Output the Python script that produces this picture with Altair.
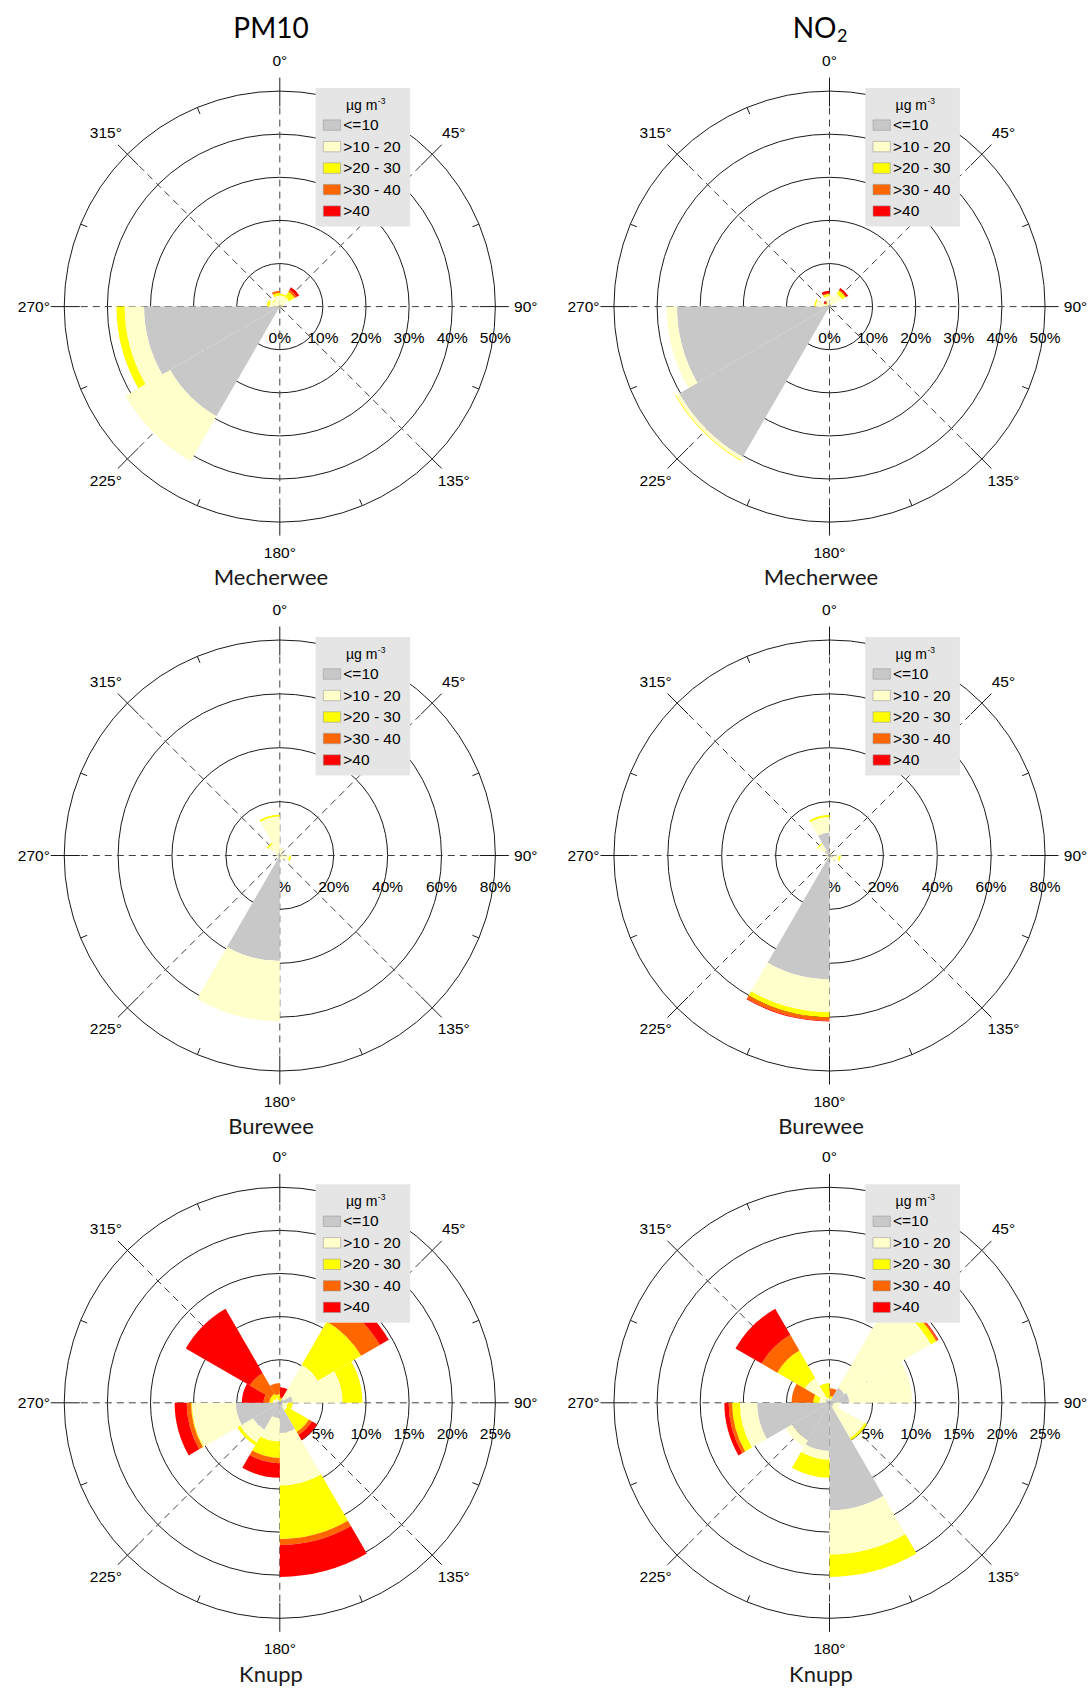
import math
import altair as alt
import pandas as pd

# ---------------------------------------------------------------------------
# Concentration classes and wind sectors
# ---------------------------------------------------------------------------
CLASSES = ["<=10", ">10 - 20", ">20 - 30", ">30 - 40", ">40"]
COLORS = ["#c8c8c8", "#ffffcc", "#ffff00", "#ff6600", "#ff0000"]
SECTOR_START = [0, 30, 60, 90, 120, 150, 180, 210, 240, 270, 300, 330]
SECTOR_WIDTH = 30
DEGREE_TICKS = [0, 45, 90, 135, 180, 225, 270, 315]

# Frequency (% of hours) per concentration class (rows) and wind sector (columns)
PM10_MECHERWEE = [
    [0.3, 0.5, 0.1, 0.1, 0.1, 0.1, 0.2, 29.4, 31.5, 0.3, 0.3, 0.3],
    [2.3, 2.0, 0.5, 0.3, 0.2, 0.2, 0.3, 12.0, 4.5, 2.1, 1.5, 2.2],
    [0.4, 1.5, 0.2, 0.0, 0.0, 0.0, 0.0, 0.0, 1.9, 0.6, 0.2, 0.7],
    [0.0, 0.5, 0.0, 0.0, 0.0, 0.0, 0.0, 0.0, 0.0, 0.0, 0.0, 0.5],
    [0.0, 0.7, 0.0, 0.0, 0.0, 0.0, 0.0, 0.0, 0.0, 0.0, 0.0, 0.0],
]
NO2_MECHERWEE = [
    [0.3, 0.5, 0.1, 0.1, 0.1, 0.1, 0.2, 40.3, 35.4, 0.3, 0.3, 0.5],
    [2.3, 2.9, 0.5, 0.2, 0.2, 0.1, 0.2, 0.8, 2.4, 2.9, 0.5, 1.9],
    [0.0, 0.9, 0.0, 0.0, 0.0, 0.0, 0.0, 0.2, 0.0, 0.3, 0.2, 0.5],
    [0.0, 0.2, 0.0, 0.0, 0.0, 0.0, 0.0, 0.0, 0.0, 0.0, 0.2, 0.2],
    [0.0, 0.5, 0.0, 0.0, 0.0, 0.0, 0.0, 0.0, 0.0, 0.0, 0.4, 0.6],
]
PM10_BUREWEE = [
    [0.3, 0.2, 0.2, 0.5, 0.3, 0.3, 39.2, 0.3, 0.2, 0.3, 0.5, 1.0],
    [2.7, 0.8, 1.0, 3.1, 1.7, 1.2, 22.3, 1.2, 0.8, 1.2, 4.5, 13.5],
    [0.0, 0.0, 0.0, 0.6, 0.0, 0.0, 0.0, 0.0, 0.0, 0.0, 0.6, 0.6],
    [0.0, 0.0, 0.0, 0.0, 0.0, 0.0, 0.0, 0.0, 0.0, 0.0, 0.0, 0.0],
    [0.0, 0.0, 0.0, 0.0, 0.0, 0.0, 0.0, 0.0, 0.0, 0.0, 0.0, 0.0],
]
NO2_BUREWEE = [
    [0.5, 0.5, 0.5, 1.5, 1.0, 0.5, 46.0, 0.5, 0.5, 0.8, 2.0, 8.5],
    [1.0, 0.5, 0.5, 2.1, 1.5, 1.0, 12.2, 1.0, 0.5, 0.7, 3.0, 5.8],
    [0.0, 0.0, 0.0, 0.6, 0.0, 0.0, 1.8, 0.0, 0.0, 0.0, 0.4, 0.7],
    [0.0, 0.0, 0.0, 0.0, 0.0, 0.0, 1.3, 0.0, 0.0, 0.0, 0.0, 0.0],
    [0.0, 0.0, 0.0, 0.0, 0.0, 0.0, 0.3, 0.0, 0.0, 0.0, 0.0, 0.0],
]
PM10_KNUPP = [
    [0.0, 0.5, 1.5, 0.3, 0.5, 3.5, 1.8, 3.6, 5.1, 0.3, 0.3, 0.0],
    [0.2, 4.6, 5.8, 0.6, 0.5, 6.1, 2.7, 1.7, 5.1, 0.5, 0.3, 0.3],
    [0.3, 5.8, 2.3, 0.6, 2.9, 6.2, 1.9, 0.4, 0.1, 0.4, 0.6, 0.7],
    [0.2, 2.5, 0.0, 0.0, 0.4, 0.7, 0.6, 0.0, 0.5, 0.7, 2.8, 1.3],
    [1.1, 1.2, 0.0, 0.0, 0.7, 3.7, 1.7, 0.0, 1.4, 2.5, 8.6, 0.0],
]
NO2_KNUPP = [
    [0.3, 2.0, 2.3, 0.5, 0.5, 12.5, 5.6, 5.0, 8.4, 0.4, 0.5, 0.2],
    [0.2, 11.6, 7.3, 0.7, 4.2, 5.1, 1.0, 0.9, 2.0, 0.8, 2.8, 0.4],
    [0.3, 0.7, 0.0, 0.0, 0.3, 2.6, 2.1, 0.0, 0.9, 0.7, 3.7, 1.7],
    [0.9, 0.2, 0.0, 0.0, 0.0, 0.0, 0.0, 0.0, 0.4, 2.5, 2.1, 0.0],
    [0.0, 0.1, 0.0, 0.0, 0.0, 0.0, 0.0, 0.0, 0.5, 0.0, 3.5, 0.0],
]

# Radial grid per station: ring step and outer ring (in %)
RINGS = {
    "Mecherwee": (10, 50),
    "Burewee": (20, 80),
    "Knupp": (5, 25),
}
POLLUTANTS = ["PM10", "NO2"]
STATIONS = ["Mecherwee", "Burewee", "Knupp"]
DATA = {
    ("PM10", "Mecherwee"): PM10_MECHERWEE,
    ("NO2", "Mecherwee"): NO2_MECHERWEE,
    ("PM10", "Burewee"): PM10_BUREWEE,
    ("NO2", "Burewee"): NO2_BUREWEE,
    ("PM10", "Knupp"): PM10_KNUPP,
    ("NO2", "Knupp"): NO2_KNUPP,
}

# ---------------------------------------------------------------------------
# Layout (pixels)
# ---------------------------------------------------------------------------
W, H = 1089, 1688
R = 215.5                       # outer ring radius
COL_CX = [279.8, 829.5]
ROW_CY = [306.6, 855.5, 1402.8]
TITLE_X = [271.0, 821.0]
STATION_BASE = [585.0, 1134.0, 1682.0]

AXIS_FONT = "Liberation Sans"
TITLE_FONT = "Lato"

color_scale = alt.Scale(domain=CLASSES, range=COLORS)
theta_scale = alt.Scale(domain=[0, 360], range=[0, 2 * math.pi])


def wedge_frame(data):
    rows = []
    for si, start in enumerate(SECTOR_START):
        cum = 0.0
        for ci, cls in enumerate(CLASSES):
            v = data[ci][si]
            if v > 0:
                rows.append(dict(a0=start, a1=start + SECTOR_WIDTH,
                                 r0=cum, r1=cum + v, cls=cls))
            cum += v
    return pd.DataFrame(rows)


def spoke_frame(cx, cy):
    rows = []
    for a in DEGREE_TICKS:
        t = math.radians(a)
        s, c = math.sin(t), -math.cos(t)
        rows.append(dict(kind="dash", x=cx, y=cy,
                         x2=cx + 200 * s, y2=cy + 200 * c))
        rows.append(dict(kind="major", x=cx + 200 * s, y=cy + 200 * c,
                         x2=cx + 229 * s, y2=cy + 229 * c))
    for k in range(8):
        t = math.radians(22.5 + 45 * k)
        s, c = math.sin(t), -math.cos(t)
        rows.append(dict(kind="minor", x=cx + (R - 7) * s, y=cy + (R - 7) * c,
                         x2=cx + R * s, y2=cy + R * c))
    return pd.DataFrame(rows)


def panel(pollutant, station, cx, cy):
    step, rmax = RINGS[station]
    rscale = alt.Scale(domain=[0, rmax], range=[0, R])
    ring_vals = list(range(step, rmax + step, step))
    rings_df = pd.DataFrame({"ring": ring_vals})
    labels_df = pd.DataFrame({"ring": [0] + ring_vals,
                              "lab": [f"{v}%" for v in [0] + ring_vals]})

    rings = alt.Chart(rings_df).mark_arc(
        fillOpacity=0, stroke="#1a1a1a", strokeWidth=1
    ).encode(
        x=alt.value(cx), y=alt.value(cy),
        theta=alt.value(0), theta2=alt.value(2 * math.pi),
        radius=alt.Radius("ring:Q", scale=rscale, stack=False),
    )

    sp = spoke_frame(cx, cy)
    dashes = alt.Chart(sp[sp.kind == "dash"]).mark_rule(
        color="#404040", strokeWidth=1, strokeDash=[7, 5]
    ).encode(
        x=alt.X("x:Q", scale=None), y=alt.Y("y:Q", scale=None),
        x2="x2:Q", y2="y2:Q",
    )
    ticks = alt.Chart(sp[sp.kind != "dash"]).mark_rule(
        color="#1a1a1a", strokeWidth=1
    ).encode(
        x=alt.X("x:Q", scale=None), y=alt.Y("y:Q", scale=None),
        x2="x2:Q", y2="y2:Q",
    )

    pct = alt.Chart(labels_df).mark_text(
        font=AXIS_FONT, fontSize=15.5, color="#000000", dy=31,
        align="center", baseline="middle",
    ).encode(
        x=alt.value(cx), y=alt.value(cy),
        theta=alt.value(math.pi / 2),
        radius=alt.Radius("ring:Q", scale=rscale, stack=False),
        text="lab:N",
    )

    wedges = alt.Chart(wedge_frame(DATA[(pollutant, station)])).mark_arc().encode(
        x=alt.value(cx), y=alt.value(cy),
        theta=alt.Theta("a0:Q", scale=theta_scale, stack=False),
        theta2="a1:Q",
        radius=alt.Radius("r1:Q", scale=rscale, stack=False),
        radius2="r0:Q",
        color=alt.Color("cls:N", scale=color_scale, legend=None),
    )

    # legend box
    box = alt.Chart(pd.DataFrame({"k": [0]})).mark_rect(color="#e5e5e5").encode(
        x=alt.value(cx + 35.8), x2=alt.value(cx + 130.4),
        y=alt.value(cy - 218.5), y2=alt.value(cy - 80.0),
    )
    unit_main = alt.Chart(pd.DataFrame({"t": ["µg m"]})).mark_text(
        font=AXIS_FONT, fontSize=14, align="right", baseline="middle", color="#000"
    ).encode(x=alt.value(cx + 97.5), y=alt.value(cy - 201.0), text="t:N")
    unit_sup = alt.Chart(pd.DataFrame({"t": ["-3"]})).mark_text(
        font=AXIS_FONT, fontSize=8.5, align="left", baseline="middle", color="#000"
    ).encode(x=alt.value(cx + 98.0), y=alt.value(cy - 205.5), text="t:N")

    items = pd.DataFrame({"cls": CLASSES})
    items["yc"] = [cy - 181.5 + 21.5 * i for i in range(len(CLASSES))]
    items["ys"] = items["yc"] - 5.2
    items["ye"] = items["yc"] + 5.2
    swatch = alt.Chart(items).mark_rect(stroke="#9a9a9a", strokeWidth=0.6).encode(
        x=alt.value(cx + 43.5), x2=alt.value(cx + 60.8),
        y=alt.Y("ys:Q", scale=None), y2="ye:Q",
        color=alt.Color("cls:N", scale=color_scale, legend=None),
    )
    item_text = alt.Chart(items).mark_text(
        font=AXIS_FONT, fontSize=15.5, align="left", baseline="middle", color="#000"
    ).encode(x=alt.value(cx + 63.5), y=alt.Y("yc:Q", scale=None), text="cls:N")

    degs = pd.DataFrame({"deg": DEGREE_TICKS,
                         "lab": [f"{d}°" for d in DEGREE_TICKS]})
    deg_text = alt.Chart(degs).mark_text(
        font=AXIS_FONT, fontSize=15.5, align="center", baseline="middle", color="#000"
    ).encode(
        x=alt.value(cx), y=alt.value(cy),
        theta=alt.Theta("deg:Q", scale=theta_scale, stack=False),
        radius=alt.value(246),
        text="lab:N",
    )

    return alt.layer(rings, pct, dashes, ticks, wedges, box, unit_main,
                     unit_sup, swatch, item_text, deg_text)


layers = []
for ri, station in enumerate(STATIONS):
    for ci, pol in enumerate(POLLUTANTS):
        layers.append(panel(pol, station, COL_CX[ci], ROW_CY[ri]))

# column headings
pm_title = alt.Chart(pd.DataFrame({"t": ["PM10"]})).mark_text(
    font=TITLE_FONT, fontSize=28, align="center", baseline="alphabetic", color="#000"
).encode(x=alt.value(TITLE_X[0]), y=alt.value(37.5), text="t:N")
no_title = alt.Chart(pd.DataFrame({"t": ["NO"]})).mark_text(
    font=TITLE_FONT, fontSize=28, align="right", baseline="alphabetic", color="#000"
).encode(x=alt.value(TITLE_X[1] + 15.5), y=alt.value(37.5), text="t:N")
no_sub = alt.Chart(pd.DataFrame({"t": ["2"]})).mark_text(
    font=TITLE_FONT, fontSize=18, align="left", baseline="alphabetic", color="#000"
).encode(x=alt.value(TITLE_X[1] + 16.0), y=alt.value(42.0), text="t:N")

# station names under each rose
st_rows = []
for ri, station in enumerate(STATIONS):
    for ci in range(2):
        st_rows.append(dict(name=station, x=TITLE_X[ci], y=STATION_BASE[ri]))
station_text = alt.Chart(pd.DataFrame(st_rows)).mark_text(
    font=TITLE_FONT, fontSize=22, align="center", baseline="alphabetic", color="#1a1a1a"
).encode(x=alt.X("x:Q", scale=None), y=alt.Y("y:Q", scale=None), text="name:N")

chart = alt.layer(*layers, pm_title, no_title, no_sub, station_text).resolve_scale(
    radius="independent"
).properties(
    width=W, height=H,
    autosize=alt.AutoSizeParams(type="none"),
    padding=0,
    background="white",
).configure_view(stroke=None)

chart.save("out.html", embed_options={"renderer": "svg", "actions": False})
